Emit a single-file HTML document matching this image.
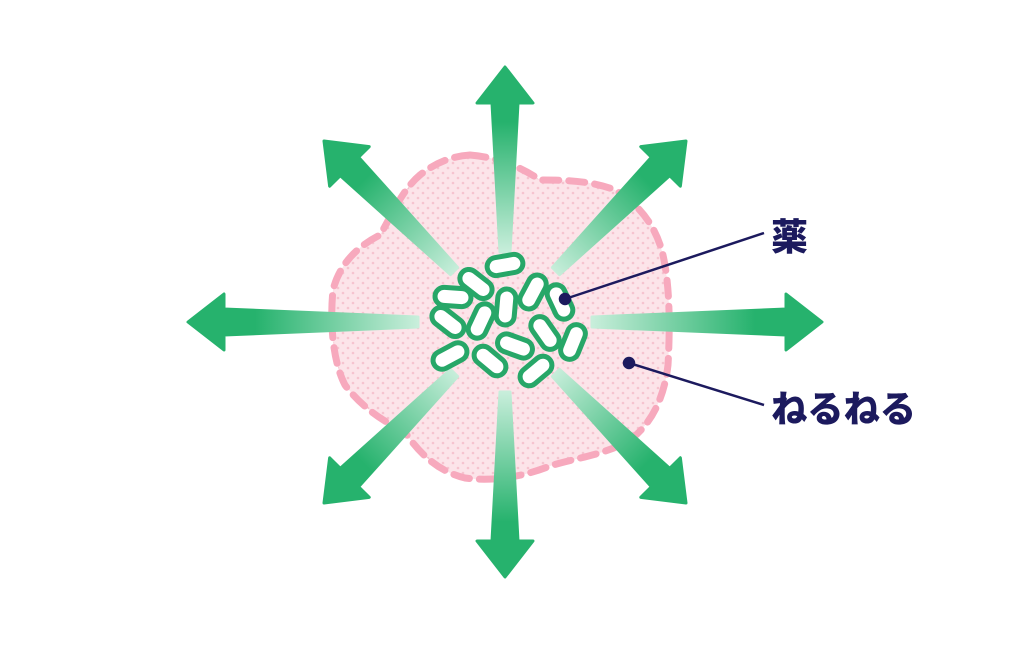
<!DOCTYPE html>
<html><head><meta charset="utf-8">
<style>
html,body{margin:0;padding:0;background:#fff;}
svg{display:block;}
</style></head><body>
<svg width="1024" height="656" viewBox="0 0 1024 656" xmlns="http://www.w3.org/2000/svg">
<defs>
<pattern id="dots" width="10" height="10" patternUnits="userSpaceOnUse">
<rect width="10" height="10" fill="#fce4e9"/>
<circle cx="3" cy="3" r="1.3" fill="#f6c3cf"/>
<circle cx="8" cy="8" r="1.3" fill="#f6c3cf"/>
</pattern>
<linearGradient id="gv" gradientUnits="userSpaceOnUse" x1="0" y1="-70" x2="0" y2="-200">
<stop offset="0" stop-color="#c8eedb"/><stop offset="1" stop-color="#26b26d"/>
</linearGradient>
<linearGradient id="gh" gradientUnits="userSpaceOnUse" x1="0" y1="-87" x2="0" y2="-250">
<stop offset="0" stop-color="#c8eedb"/><stop offset="1" stop-color="#26b26d"/>
</linearGradient>
</defs>

<path d="M470,155 C495,157 520,166 540,180 C560,180 590,180 615,190 C640,205 658,228 664,260 C670,290 670,330 668,365 C664,400 650,425 630,440 C605,455 575,458 550,466 C525,476 495,482 465,478 C440,472 420,455 405,432 C380,420 360,405 345,385 C332,360 330,320 333,290 C340,262 360,245 380,235 C392,215 402,190 420,175 C435,163 452,156 470,155 Z" fill="url(#dots)" stroke="#f7a9bd" stroke-width="7" stroke-dasharray="16 10" stroke-linecap="round"/>

<g transform="translate(505,322)">
<path transform="rotate(0)" d="M-5,-70 L-13,-219 L-28,-219 L0,-255 L28,-219 L13,-219 L5,-70 Z" fill="url(#gv)" stroke="url(#gv)" stroke-width="3" stroke-linejoin="round"/>
<path transform="rotate(180)" d="M-5,-70 L-13,-219 L-28,-219 L0,-255 L28,-219 L13,-219 L5,-70 Z" fill="url(#gv)" stroke="url(#gv)" stroke-width="3" stroke-linejoin="round"/>
<path transform="rotate(90)" d="M-5,-87 L-13,-281 L-28,-281 L0,-317 L28,-281 L13,-281 L5,-87 Z" fill="url(#gh)" stroke="url(#gh)" stroke-width="3" stroke-linejoin="round"/>
<path transform="rotate(-90)" d="M-5,-87 L-13,-281 L-28,-281 L0,-317 L28,-281 L13,-281 L5,-87 Z" fill="url(#gh)" stroke="url(#gh)" stroke-width="3" stroke-linejoin="round"/>
<path transform="rotate(45)" d="M-5,-72 L-13,-220 L-28,-220 L0,-256 L28,-220 L13,-220 L5,-72 Z" fill="url(#gv)" stroke="url(#gv)" stroke-width="3" stroke-linejoin="round"/>
<path transform="rotate(-45)" d="M-5,-72 L-13,-220 L-28,-220 L0,-256 L28,-220 L13,-220 L5,-72 Z" fill="url(#gv)" stroke="url(#gv)" stroke-width="3" stroke-linejoin="round"/>
<path transform="rotate(135)" d="M-5,-72 L-13,-220 L-28,-220 L0,-256 L28,-220 L13,-220 L5,-72 Z" fill="url(#gv)" stroke="url(#gv)" stroke-width="3" stroke-linejoin="round"/>
<path transform="rotate(-135)" d="M-5,-72 L-13,-220 L-28,-220 L0,-256 L28,-220 L13,-220 L5,-72 Z" fill="url(#gv)" stroke="url(#gv)" stroke-width="3" stroke-linejoin="round"/>
</g>

<g fill="#fff" stroke="#27a768" stroke-width="5">
<rect x="-18" y="-9" width="36" height="18" rx="9" transform="translate(505,265) rotate(-10)"/>
<rect x="-18" y="-9" width="36" height="18" rx="9" transform="translate(476,284) rotate(38)"/>
<rect x="-18" y="-9" width="36" height="18" rx="9" transform="translate(453,297) rotate(4)"/>
<rect x="-18" y="-9" width="36" height="18" rx="9" transform="translate(533,292) rotate(-62)"/>
<rect x="-18" y="-9" width="36" height="18" rx="9" transform="translate(560,302) rotate(65)"/>
<rect x="-18" y="-9" width="36" height="18" rx="9" transform="translate(506,307) rotate(95)"/>
<rect x="-18" y="-9" width="36" height="18" rx="9" transform="translate(448,322) rotate(38)"/>
<rect x="-18" y="-9" width="36" height="18" rx="9" transform="translate(481,321) rotate(-65)"/>
<rect x="-18" y="-9" width="36" height="18" rx="9" transform="translate(545,333) rotate(55)"/>
<rect x="-18" y="-9" width="36" height="18" rx="9" transform="translate(573,342) rotate(-68)"/>
<rect x="-18" y="-9" width="36" height="18" rx="9" transform="translate(515,346) rotate(20)"/>
<rect x="-18" y="-9" width="36" height="18" rx="9" transform="translate(450,356) rotate(-28)"/>
<rect x="-18" y="-9" width="36" height="18" rx="9" transform="translate(490,361) rotate(40)"/>
<rect x="-18" y="-9" width="36" height="18" rx="9" transform="translate(536,371) rotate(-40)"/>
</g>

<g stroke="#1c1a5e" stroke-width="2.5" fill="#1c1a5e">
<line x1="565" y1="299" x2="764" y2="233"/>
<circle cx="565" cy="299" r="5"/>
<line x1="629" y1="363" x2="764" y2="405"/>
<circle cx="629" cy="363" r="5"/>
</g>
<text x="771" y="250" font-family="'Liberation Sans','Noto Sans CJK JP',sans-serif" font-weight="900" font-size="37" fill="#1c1a5e">薬</text>
<text x="771" y="422" font-family="'Liberation Sans','Noto Sans CJK JP',sans-serif" font-weight="900" font-size="37" fill="#1c1a5e" textLength="145" lengthAdjust="spacingAndGlyphs">ねるねる</text>
</svg>
</body></html>
